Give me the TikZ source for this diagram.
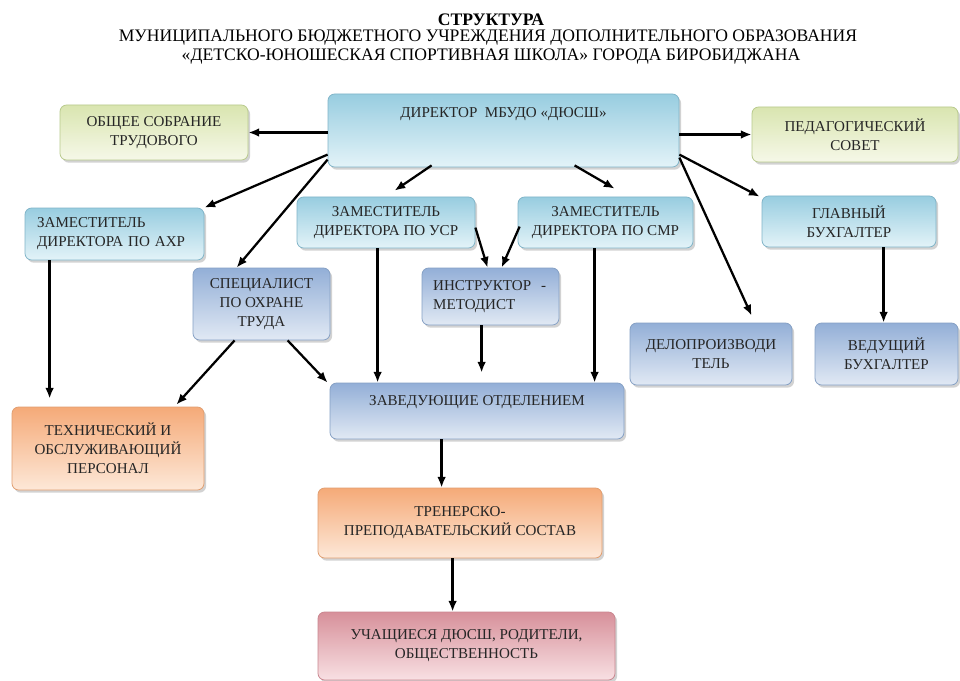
\documentclass[tikz,border=0pt]{standalone}
\usepackage{fontspec}
\setmainfont{Liberation Serif}
\usetikzlibrary{arrows.meta,shadows,calc}
\definecolor{cyA}{HTML}{98CDE0}
\definecolor{cyB}{HTML}{E3F3F8}
\definecolor{cyD}{HTML}{80B4C8}
\definecolor{grA}{HTML}{D9E5B0}
\definecolor{grB}{HTML}{F6F8E8}
\definecolor{grD}{HTML}{B8CA8C}
\definecolor{stA}{HTML}{93AFD7}
\definecolor{stB}{HTML}{E1E9F4}
\definecolor{stD}{HTML}{85A0C4}
\definecolor{orA}{HTML}{F5AA78}
\definecolor{orB}{HTML}{FDE8D8}
\definecolor{orD}{HTML}{E09E70}
\definecolor{pkA}{HTML}{D7909A}
\definecolor{pkB}{HTML}{F8E0E3}
\definecolor{pkD}{HTML}{C9868F}
\newcommand\bx[7]{\node[#6, minimum width={(#4-#2)*0.75pt}, minimum height={(#5-#3)*0.75pt}] (#1) at ({(#2+#4)/2},{(#3+#5)/2}) {#7};}
\tikzset{
  box/.style={rounded corners=5pt, line width=0.6pt, align=center, inner sep=2pt,
    font=\fontsize{11.3}{14.2}\selectfont, text=black!85,
    drop shadow={shadow xshift=1.6pt, shadow yshift=-2pt, opacity=0.35}},
  cybox/.style={box, draw=cyD, top color=cyA, bottom color=cyB},
  grbox/.style={box, draw=grD, top color=grA, bottom color=grB},
  stbox/.style={box, draw=stD, top color=stA, bottom color=stB},
  orbox/.style={box, draw=orD, top color=orA, bottom color=orB},
  pkbox/.style={box, draw=pkD, top color=pkA, bottom color=pkB},
  arr/.style={-{Latex[length=8pt,width=6.5pt]}, line width=1.7pt, black},
  ttl/.style={font=\fontsize{13.2}{15}\selectfont, inner sep=0pt}
}
\begin{document}
\begin{tikzpicture}[x=0.75pt,y=-0.75pt]
\fill[white] (0,0) rectangle (960,681);
\useasboundingbox (0,0) rectangle (960,681);
\node[ttl, font=\bfseries\fontsize{13.2}{15}\selectfont] (t1) at (491,20) {СТРУКТУРА};
\node[ttl] (t2) at (488,38) {МУНИЦИПАЛЬНОГО БЮДЖЕТНОГО УЧРЕЖДЕНИЯ ДОПОЛНИТЕЛЬНОГО ОБРАЗОВАНИЯ};
\node[ttl] (t3) at (491,57) {«ДЕТСКО-ЮНОШЕСКАЯ СПОРТИВНАЯ ШКОЛА» ГОРОДА БИРОБИДЖАНА};

\bx{dir}{328}{94}{679}{167}{cybox, text height=8pt, text depth=27pt}{ДИРЕКТОР\ \ МБУДО «ДЮСШ»}
\bx{obsh}{60}{105}{248}{160}{grbox}{ОБЩЕЕ СОБРАНИЕ\\ТРУДОВОГО}
\bx{ped}{752}{107}{958}{162}{grbox}{ПЕДАГОГИЧЕСКИЙ\\СОВЕТ}
\bx{ahr}{25}{208}{204}{260}{cybox, align=left, text width=116pt}{ЗАМЕСТИТЕЛЬ\\ДИРЕКТОРА ПО АХР}
\bx{usr}{297}{197}{475}{248}{cybox}{ЗАМЕСТИТЕЛЬ\\ДИРЕКТОРА ПО УСР}
\bx{smr}{518}{197}{693}{248}{cybox}{ЗАМЕСТИТЕЛЬ\\ДИРЕКТОРА ПО СМР}
\bx{glb}{762}{196}{936}{247}{cybox}{ГЛАВНЫЙ\\БУХГАЛТЕР}
\bx{spec}{193}{268}{330}{340}{stbox}{СПЕЦИАЛИСТ\\ПО ОХРАНЕ\\ТРУДА}
\bx{instr}{422}{268}{559}{325}{stbox, align=left, text width=86pt}{ИНСТРУКТОР~~-\\МЕТОДИСТ}
\bx{delo}{630}{323}{792}{385}{stbox}{ДЕЛОПРОИЗВОДИ\\ТЕЛЬ}
\bx{ved}{815}{323}{958}{385}{stbox}{ВЕДУЩИЙ\\БУХГАЛТЕР}
\bx{zav}{330}{383}{624}{439}{stbox, text height=8pt, text depth=17pt}{ЗАВЕДУЮЩИЕ ОТДЕЛЕНИЕМ}
\bx{tech}{12}{407}{204}{490}{orbox}{ТЕХНИЧЕСКИЙ И\\ОБСЛУЖИВАЮЩИЙ\\ПЕРСОНАЛ}
\bx{tren}{318}{488}{602}{558}{orbox}{ТРЕНЕРСКО-\\ПРЕПОДАВАТЕЛЬСКИЙ СОСТАВ}
\bx{uch}{318}{612}{615}{680}{pkbox}{УЧАЩИЕСЯ ДЮСШ, РОДИТЕЛИ,\\ОБЩЕСТВЕННОСТЬ}

\draw[arr] (dir.west |- obsh.east) -- (obsh.east);
\draw[arr] (dir.east |- ped.west) -- (ped.west);
\draw[arr] ($(dir.north west)+(0,61)$) -- (ahr.north east);
\draw[arr] ($(dir.north west)+(0,66)$) -- ($(spec.north west)+(44,0)$);
\draw[arr] ($(dir.south west)+(104,-2)$) -- ($(usr.north west)+(98,-6)$);
\draw[arr] ($(dir.south west)+(247,-2)$) -- ($(smr.north west)+(97,-8)$);
\draw[arr] ($(dir.north east)+(0,61)$) -- ($(glb.north west)+(-2,1)$);
\draw[arr] ($(dir.north east)+(0,64)$) -- ($(delo.north west)+(122,-7)$);
\draw[arr] ($(usr.north east)+(0,31)$) -- ($(instr.north west)+(66,0)$);
\draw[arr] ($(smr.north west)+(2,30)$) -- ($(instr.north west)+(80,0)$);
\draw[arr] ($(usr.south west)+(81,0)$) -- ($(zav.north west)+(48,0)$);
\draw[arr] ($(instr.south west)+(60,0)$) -- ($(zav.north west)+(152,-10)$);
\draw[arr] ($(smr.south west)+(77,0)$) -- ($(zav.north west)+(265,0)$);
\draw[arr] ($(ahr.south west)+(25,0)$) -- ($(tech.north west)+(38,-8)$);
\draw[arr] ($(spec.south west)+(42,0)$) -- ($(tech.north east)+(-28,-2)$);
\draw[arr] ($(spec.south west)+(95,0)$) -- ($(zav.north west)+(-2,0)$);
\draw[arr] ($(glb.south west)+(122,0)$) -- ($(ved.north west)+(69,0)$);
\draw[arr] ($(zav.south west)+(112,0)$) -- ($(tren.north west)+(124,0)$);
\draw[arr] ($(tren.south west)+(135,0)$) -- ($(uch.north west)+(135,0)$);
\end{tikzpicture}
\end{document}
